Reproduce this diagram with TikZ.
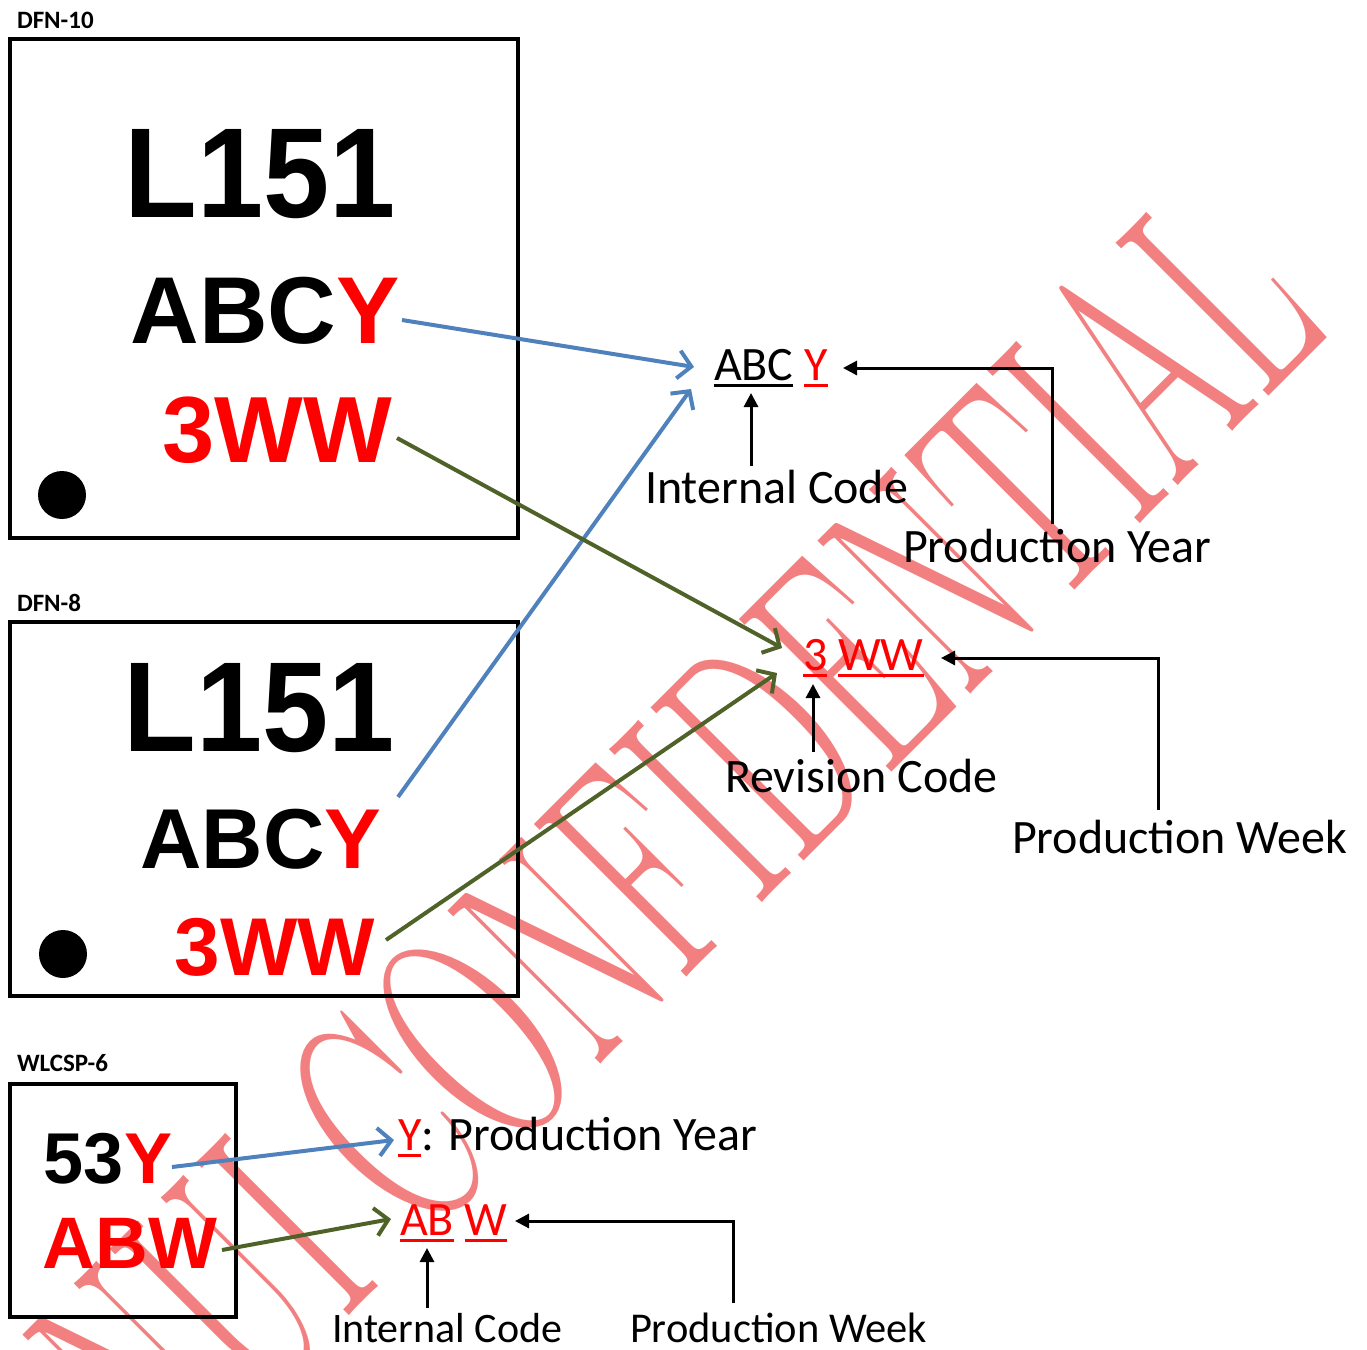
\documentclass[tikz,border=0pt]{standalone}
\usepackage{fontspec}
\setmainfont{Liberation Sans}
\newfontfamily\calfont{Carlito}
\newfontfamily\wmfont{Latin Modern Roman}
\usetikzlibrary{arrows.meta}
\definecolor{wmred}{RGB}{242,128,128}
\definecolor{ablue}{RGB}{79,129,189}
\definecolor{agreen}{RGB}{79,98,40}
\newcommand\myul[1]{\setbox0\hbox{#1}\rlap{\rule[-7pt]{\wd0}{3.5pt}}\box0}
\newcommand\fs[1]{\fontsize{#1}{#1}\selectfont}
\begin{document}
\begin{tikzpicture}[x=1pt,y=-1pt,
  every node/.style={inner sep=0pt,outer sep=0pt},
  pkg/.style={draw=black,line width=4pt,inner sep=0pt},
  pkgname/.style={font=\calfont\bfseries\fs{25},anchor=base west},
  mk/.style={font=\bfseries\fs{#1},anchor=base},
  lbl/.style={font=\calfont\fs{48},anchor=base west},
  dotmk/.style={circle,fill=black,minimum size=48pt},
  blk/.style={draw=black,line width=3pt,-{Triangle[length=14pt,width=14pt]}},
  bl/.style={draw=ablue,line width=4pt,-{Straight Barb[length=13pt,width=28pt]}},
  gr/.style={draw=agreen,line width=4pt,-{Straight Barb[length=13pt,width=28pt]}},
  wmk/.style={rotate=45,text=wmred,font=\wmfont\fs{177}}]

\useasboundingbox (0,0) rectangle (1367,1349);
\begin{scope}
\clip (0,0) rectangle (1367,1349);
\node[wmk,anchor=base] (wmB) at (877.5,787) {\scalebox{1}[1.79]{CONFIDENTIAL}};
\node[wmk,anchor=base east] (wmA) at (wmB.base west) {\scalebox{1}[1.79]{NUI\hspace{0.29em}}};
\end{scope}

% DFN-10
\node[pkgname] (n1) at (17,28) {DFN-10};
\node[pkg,minimum width=508pt,minimum height=499pt] (box1) at (264,288.5) {};
\node[mk=128] (b1l1) at (260,217) {\scalebox{0.93}[1]{L151}};
\node[mk=95] (b1l2) at (265,343) {ABC\textcolor{red}{Y}};
\node[mk=94,text=red] (b1l3) at (277,462) {3WW};
\node[dotmk] (b1dot) at (62,495) {};

% DFN-8
\node[pkgname] (n2) at (17,611) {DFN-8};
\node[pkg,minimum width=508pt,minimum height=374pt] (box2) at (264,809) {};
\node[mk=128] (b2l1) at (259,751) {\scalebox{0.93}[1]{L151}};
\node[mk=85] (b2l2) at (261,868) {ABC\textcolor{red}{Y}};
\node[mk=82,text=red] (b2l3) at (275,975) {3WW};
\node[dotmk] (b2dot) at (63,954) {};

% WLCSP-6
\node[pkgname] (n3) at (17,1071) {WLCSP-6};
\node[pkg,minimum width=226pt,minimum height=233pt] (box3) at (123,1200) {};
\node[mk=72] (b3l1) at (108,1183) {53\textcolor{red}{Y}};
\node[mk=73,text=red] (b3l2) at (130,1268) {ABW};

% annotations
\node[lbl] (t1) at (714,380) {\myul{ABC}\ \textcolor{red}{\myul{Y}}};
\node[lbl] (ic1) at (645,503) {Internal Code};
\node[lbl] (py1) at (903,562) {Production Year};
\node[lbl,text=red] (t2) at (803,670) {\myul{3}\ \myul{WW}};
\node[lbl] (rc) at (725,792) {Revision Code};
\node[lbl] (pw1) at (1012,853) {Production Week};
\node[lbl] (t3) at (398,1150) {\textcolor{red}{\myul{Y}}: Production Year};
\node[lbl,text=red] (t4) at (400,1235) {\myul{AB}\ \myul{W}};
\node[lbl,font=\calfont\fs{42}] (ic2) at (332,1342) {Internal Code};
\node[lbl,font=\calfont\fs{42.5}] (pw2) at (630,1342) {Production Week};

% black arrows
\coordinate (c1a) at (751,466); \coordinate (c1b) at (751,393);
\draw[blk] (c1a) -- (c1b);
\coordinate (c2a) at (1052,524); \coordinate (c2b) at (843,368);
\draw[blk] (c2a) |- (c2b);
\coordinate (c3a) at (813,752); \coordinate (c3b) at (813,684);
\draw[blk] (c3a) -- (c3b);
\coordinate (c4a) at (1158,810); \coordinate (c4b) at (941,658);
\draw[blk] (c4a) |- (c4b);
\coordinate (c5a) at (427,1308); \coordinate (c5b) at (427,1248);
\draw[blk] (c5a) -- (c5b);
\coordinate (c6a) at (733,1303); \coordinate (c6b) at (515,1221);
\draw[blk] (c6a) |- (c6b);

% colored arrows
\coordinate (s1) at (402,320); \coordinate (e1) at (694,367);
\draw[bl] (s1) -- (e1);
\coordinate (s2) at (398,797); \coordinate (e2) at (691,389);
\draw[bl] (s2) -- (e2);
\coordinate (g1s) at (397,438); \coordinate (g1e) at (782,648);
\draw[gr] (g1s) -- (g1e);
\coordinate (g2s) at (386,940); \coordinate (g2e) at (777,673);
\draw[gr] (g2s) -- (g2e);
\coordinate (s3) at (172,1167); \coordinate (e3) at (394,1140);
\draw[bl] (s3) -- (e3);
\coordinate (g3s) at (222,1250); \coordinate (g3e) at (391,1219);
\draw[gr] (g3s) -- (g3e);
\end{tikzpicture}
\end{document}
